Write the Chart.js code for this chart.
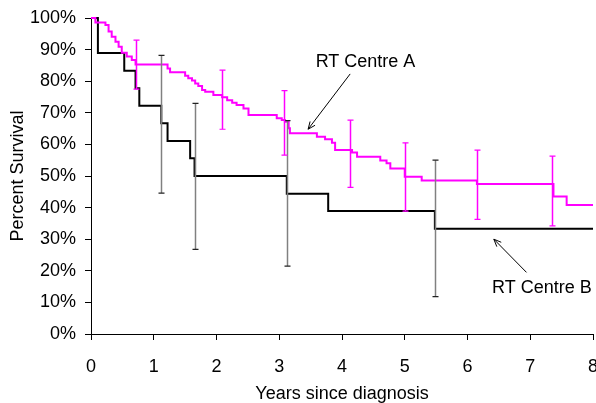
<!DOCTYPE html>
<html>
<head>
<meta charset="utf-8">
<script src="https://cdn.jsdelivr.net/npm/chart.js@4.4.0/dist/chart.umd.min.js"></script>
<style>
  html, body { margin: 0; padding: 0; background: #fff; overflow: hidden; }
</style>
</head>
<body>
<canvas id="kmChart" width="596" height="403"></canvas>
<script>
// Kaplan-Meier steps: value drops to surv[i] at years[i]
const yearsA = [0, 0.07, 0.23, 0.28, 0.33, 0.39, 0.44, 0.49, 0.57, 0.65, 0.71, 1.22, 1.26, 1.50, 1.55, 1.61, 1.66, 1.71, 1.77, 1.82, 1.95,
  2.09, 2.17, 2.25, 2.32, 2.43, 2.51, 2.96, 3.04, 3.09, 3.15, 3.17, 3.60, 3.73, 3.84, 3.89, 4.16, 4.24, 4.61, 4.71, 4.77,
  5.00, 5.27, 6.15, 7.37, 7.58, 8];
const survA = [100, 98.6, 97.8, 95.7, 94.1, 92.5, 90.9, 89.0, 87.8, 86.7, 85.3, 84.0, 82.8, 81.7, 80.9, 80.2, 79.3, 78.5, 77.2, 76.7, 75.6,
  74.9, 74.0, 73.2, 72.5, 71.4, 69.3, 68.3, 67.7, 67.2, 65.1, 63.5, 62.4, 61.6, 60.5, 58.2, 57.4, 56.1, 54.9, 54.0, 52.4,
  49.8, 48.6, 47.5, 43.5, 40.8, 40.8];

const yearsB = [0, 0.11, 0.53, 0.71, 0.77, 1.12, 1.22, 1.58, 1.65, 3.12, 3.78, 5.48, 8];
const survB = [100, 88.9, 83.3, 77.8, 72.2, 66.7, 61.1, 55.6, 50.0, 44.4, 38.9, 33.3, 33.3];

// confidence bars
const barYearsA = [0.71, 2.09, 3.07, 4.13, 5.01, 6.15, 7.34];
const barLowA = [77.5, 64.8, 56.6, 46.4, 38.9, 36.3, 34.2];
const barHighA = [93.0, 83.5, 77.0, 67.7, 60.5, 58.2, 56.3];

const barYearsB = [1.12, 1.66, 3.12, 5.48];
const barLowB = [44.6, 26.8, 21.5, 11.8];
const barHighB = [88.2, 73.0, 67.5, 55.0];

// callouts: text anchor, arrow start, arrow tip (data units)
const labelA = { text: "RT Centre A", x: 3.58, y: 86, fromX: 4.13, fromY: 82.3, toX: 3.46, toY: 64.8 };
const labelB = { text: "RT Centre B", x: 6.39, y: 14.6, fromX: 6.94, fromY: 19.5, toX: 6.42, toY: 30 };

const fontFamily = "'Liberation Sans', Arial, sans-serif";

const errorBars = {
  id: "errorBars",
  afterDatasetsDraw(chart) {
    const { ctx, scales: { x, y } } = chart;
    const drawSet = (xs, lo, hi, lineColor, capColor) => {
      xs.forEach((t, i) => {
        const px = Math.round(x.getPixelForValue(t)) + 0.5;
        const y1 = y.getPixelForValue(hi[i]);
        const y2 = y.getPixelForValue(lo[i]);
        ctx.save();
        ctx.lineWidth = 1.5;
        ctx.strokeStyle = lineColor;
        ctx.beginPath();
        ctx.moveTo(px, y1);
        ctx.lineTo(px, y2);
        ctx.stroke();
        ctx.strokeStyle = capColor;
        ctx.lineWidth = 1.2;
        ctx.beginPath();
        ctx.moveTo(px - 3, y1);
        ctx.lineTo(px + 3, y1);
        ctx.moveTo(px - 3, y2);
        ctx.lineTo(px + 3, y2);
        ctx.stroke();
        ctx.restore();
      });
    };
    drawSet(barYearsB, barLowB, barHighB, "#808080", "#222");
    drawSet(barYearsA, barLowA, barHighA, "#ff00ff", "#ff00ff");
  }
};

const callouts = {
  id: "callouts",
  afterDraw(chart) {
    const { ctx, scales: { x, y } } = chart;
    [labelA, labelB].forEach(l => {
      ctx.save();
      ctx.fillStyle = "#000";
      ctx.font = "18px " + fontFamily;
      ctx.textAlign = "left";
      ctx.textBaseline = "middle";
      ctx.fillText(l.text, x.getPixelForValue(l.x), y.getPixelForValue(l.y));

      const x1 = x.getPixelForValue(l.fromX), y1 = y.getPixelForValue(l.fromY);
      const x2 = x.getPixelForValue(l.toX), y2 = y.getPixelForValue(l.toY);
      const ang = Math.atan2(y2 - y1, x2 - x1);
      ctx.strokeStyle = "#000";
      ctx.lineWidth = 1;
      ctx.beginPath();
      ctx.moveTo(x1, y1);
      ctx.lineTo(x2, y2);
      ctx.moveTo(x2 - 8 * Math.cos(ang - 0.4), y2 - 8 * Math.sin(ang - 0.4));
      ctx.lineTo(x2, y2);
      ctx.lineTo(x2 - 8 * Math.cos(ang + 0.4), y2 - 8 * Math.sin(ang + 0.4));
      ctx.stroke();
      ctx.restore();
    });
  }
};

new Chart(document.getElementById("kmChart"), {
  type: "line",
  data: {
    datasets: [
      {
        label: "RT Centre A",
        data: yearsA.map((t, i) => ({ x: t, y: survA[i] })),
        borderColor: "#ff00ff",
        borderWidth: 2,
        stepped: "before",
        pointRadius: 0,
        fill: false,
        clip: 4
      },
      {
        label: "RT Centre B",
        data: yearsB.map((t, i) => ({ x: t, y: survB[i] })),
        borderColor: "#000",
        borderWidth: 2,
        stepped: "before",
        pointRadius: 0,
        fill: false,
        clip: 4
      }
    ]
  },
  options: {
    responsive: false,
    animation: false,
    layout: { padding: { top: 18, left: 0, right: 0, bottom: 0 } },
    plugins: {
      legend: { display: false },
      tooltip: { enabled: false }
    },
    scales: {
      x: {
        type: "linear",
        min: 0,
        max: 8,
        ticks: { stepSize: 1, color: "#000", padding: 16.5, font: { family: fontFamily, size: 18 } },
        grid: { drawOnChartArea: false, drawTicks: true, tickLength: 6, color: "#000" },
        border: { color: "#000", width: 1 },
        title: { display: true, text: "Years since diagnosis", color: "#000", padding: 0,
          font: { family: fontFamily, size: 18, lineHeight: 1 } },
        afterFit(scale) {
          scale.height = 69;
          scale.paddingLeft = 0;
          scale.paddingRight = 3;
        }
      },
      y: {
        min: 0,
        max: 100,
        ticks: { stepSize: 10, color: "#000", padding: 9, font: { family: fontFamily, size: 18 },
          callback: v => v + "%" },
        grid: { drawOnChartArea: false, drawTicks: true, tickLength: 6, color: "#000" },
        border: { color: "#000", width: 1 },
        title: { display: true, text: "Percent Survival", color: "#000", padding: { top: 7, bottom: 0 },
          font: { family: fontFamily, size: 18 } },
        afterFit(scale) {
          scale.width = 91;
          scale.paddingTop = 0;
          scale.paddingBottom = 0;
        }
      }
    }
  },
  plugins: [errorBars, callouts]
});
</script>
</body>
</html>
